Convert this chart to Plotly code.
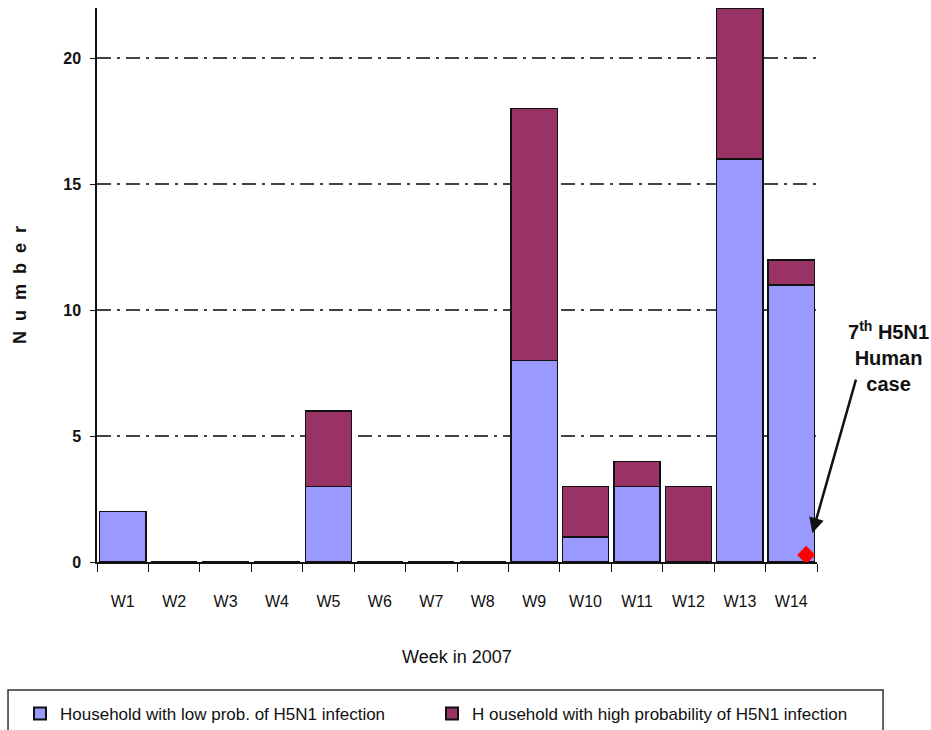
import plotly.graph_objects as go

weeks = ["W1", "W2", "W3", "W4", "W5", "W6", "W7", "W8", "W9", "W10", "W11", "W12", "W13", "W14"]
low_prob = [2, 0, 0, 0, 3, 0, 0, 0, 8, 1, 3, 0, 16, 11]
high_prob = [0, 0, 0, 0, 3, 0, 0, 0, 10, 2, 1, 3, 6, 1]
y_ticks = [0, 5, 10, 15, 20]

human_case_x = [13.29]
human_case_y = [0.28]

font_reg = "Liberation Sans, Arial, sans-serif"

fig = go.Figure()
fig.add_trace(go.Bar(
    x=weeks, y=low_prob,
    name="Household with low prob. of H5N1 infection",
    marker=dict(color="#9999FF", line=dict(color="#111111", width=1.5)),
    legend="legend",
))
fig.add_trace(go.Bar(
    x=weeks, y=high_prob,
    name="H ousehold with high probability of H5N1 infection",
    marker=dict(color="#993366", line=dict(color="#111111", width=1.5)),
    legend="legend2",
))
fig.add_trace(go.Scatter(
    x=human_case_x, y=human_case_y, mode="markers",
    marker=dict(symbol="diamond", color="#FF0000", size=14),
    showlegend=False, xaxis="x2",
))

legend_common = dict(
    orientation="h", xref="container", xanchor="left",
    yref="paper", y=-0.242, yanchor="top",
    font=dict(size=17, family=font_reg), itemsizing="constant",
    bgcolor="rgba(0,0,0,0)",
)

fig.update_layout(
    width=931, height=730,
    barmode="stack", bargap=0.1,
    plot_bgcolor="white", paper_bgcolor="white",
    margin=dict(l=97, r=114, t=8, b=168, autoexpand=False),
    font=dict(family=font_reg, color="#111111"),
    xaxis=dict(
        type="category", categoryorder="array", categoryarray=weeks,
        showline=True, linecolor="#111111", linewidth=1.5,
        ticks="outside", tickson="boundaries", ticklen=8, tickcolor="#111111",
        tickfont=dict(size=16, family=font_reg),
        ticklabelstandoff=24,
        showgrid=False, automargin=False,
    ),
    xaxis2=dict(range=[-0.5, 13.5], overlaying="x", visible=False),
    yaxis=dict(
        range=[0, 22], tickvals=y_ticks,
        showline=True, linecolor="#111111", linewidth=1.5,
        ticks="outside", ticklen=5, tickcolor="#111111",
        tickfont=dict(size=16, family=font_reg, weight="bold"),
        ticklabelstandoff=6,
        showgrid=True, gridcolor="#444444", gridwidth=2, griddash="14px,6px,3px,6px",
        zeroline=False, automargin=False,
    ),
    legend=dict(legend_common, x=20 / 931),
    legend2=dict(legend_common, x=432 / 931),
    shapes=[dict(
        type="rect", xref="paper", yref="paper",
        x0=-0.1236, x1=1.0917, y0=-0.33, y1=-0.231,
        line=dict(color="#333333", width=1.5), fillcolor="rgba(0,0,0,0)",
    )],
    annotations=[
        dict(
            x=13.41, y=1.15, xref="x2", yref="y",
            ax=44, ay=-155, axref="pixel", ayref="pixel",
            showarrow=True, arrowhead=2, arrowsize=1.2, arrowwidth=2.5, arrowcolor="#111111",
            text="",
        ),
        dict(
            x=1.099, y=(562 - 356) / 554, xref="paper", yref="paper", xanchor="center", yanchor="middle",
            text="7<sup>th</sup> H5N1<br>Human<br>case", showarrow=False,
            font=dict(size=20, family=font_reg, weight="bold", color="#111111"),
        ),
        dict(
            x=0.5, y=-0.172, xref="paper", yref="paper", xanchor="center", yanchor="middle",
            text="Week in 2007", showarrow=False,
            font=dict(size=18, family=font_reg, color="#111111"),
        ),
        dict(
            x=-0.107, y=0.5, xref="paper", yref="paper", xanchor="center", yanchor="middle",
            text="\u00a0\u00a0".join("Number"), textangle=-90, showarrow=False,
            font=dict(size=18, family=font_reg, weight="bold", color="#111111"),
        ),
    ],
)

fig.write_html("out.html")
